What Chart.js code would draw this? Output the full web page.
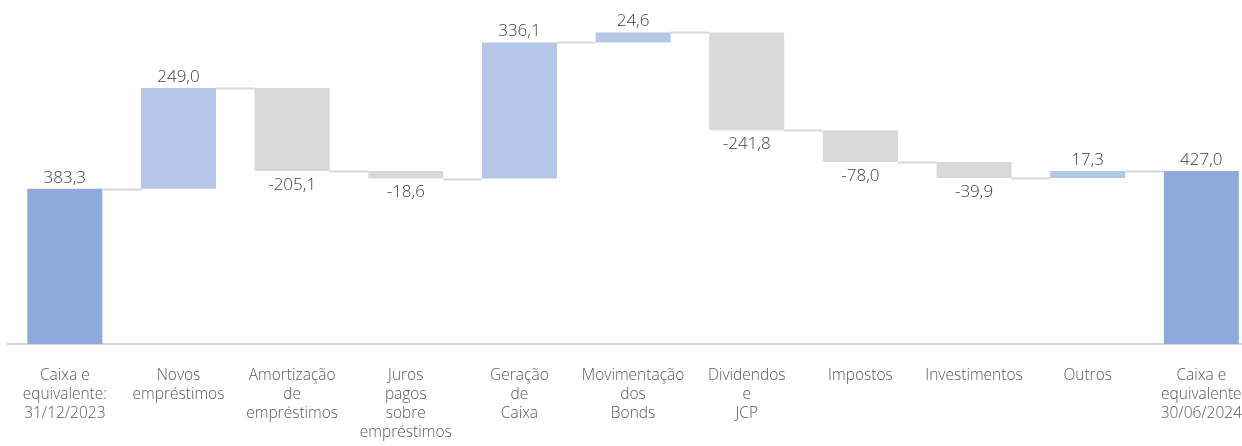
<!DOCTYPE html>
<html>
<head>
<meta charset="utf-8">
<script src="https://cdn.jsdelivr.net/npm/chart.js@4.4.1/dist/chart.umd.min.js"></script>
<style>
  html, body { margin: 0; padding: 0; background: #ffffff; overflow: hidden; }
  #wrap { position: relative; width: 1264px; height: 446px; }
</style>
</head>
<body>
<div id="wrap"><canvas id="c" width="1264" height="446"></canvas></div>
<script>
const categories = [
  ['Caixa e', 'equivalente:', '31/12/2023'],
  ['Novos', 'empréstimos'],
  ['Amortização', 'de', 'empréstimos'],
  ['Juros', 'pagos', 'sobre', 'empréstimos'],
  ['Geração', 'de', 'Caixa'],
  ['Movimentação', 'dos', 'Bonds'],
  ['Dividendos', 'e', 'JCP'],
  ['Impostos'],
  ['Investimentos'],
  ['Outros'],
  ['Caixa e', 'equivalente', '30/06/2024']
];
const values = [383.3, 249.0, -205.1, -18.6, 336.1, 24.6, -241.8, -78.0, -39.9, 17.3, 427.0];
const kinds = ['total', 'delta', 'delta', 'delta', 'delta', 'delta', 'delta', 'delta', 'delta', 'delta', 'total'];

const colorTotal = '#8eaadb';
const colorUp = '#b4c7e7';
const colorDown = '#d9d9d9';

// build floating bars from values
const floats = [];
const levels = [];
let running = 0;
values.forEach((v, i) => {
  if (kinds[i] === 'total') {
    floats.push([0, v]);
    running = v;
  } else {
    floats.push([running, running + v]);
    running = running + v;
  }
  levels.push(running);
});
const colors = values.map((v, i) => kinds[i] === 'total' ? colorTotal : (v >= 0 ? colorUp : colorDown));

const fmt = v => v.toFixed(1).replace('.', ',');

const waterfallPlugin = {
  id: 'waterfall',
  afterDatasetsDraw(chart) {
    const ctx = chart.ctx;
    const meta = chart.getDatasetMeta(0);
    const y = chart.scales.y;
    ctx.save();
    // connectors
    ctx.strokeStyle = '#d9d9d9';
    ctx.lineWidth = 2;
    for (let i = 0; i < meta.data.length - 1; i++) {
      const a = meta.data[i], b = meta.data[i + 1];
      const yy = Math.round(y.getPixelForValue(levels[i])) + 0.5;
      ctx.beginPath();
      ctx.moveTo(a.x + a.width / 2, yy);
      ctx.lineTo(b.x - b.width / 2, yy);
      ctx.stroke();
    }
    // labels
    ctx.fillStyle = '#404040';
    ctx.font = '300 17px "Open Sans", sans-serif';
    ctx.textAlign = 'center';
    ctx.textBaseline = 'middle';
    meta.data.forEach((bar, i) => {
      const v = values[i];
      const top = Math.min(bar.y, bar.base);
      const bottom = Math.max(bar.y, bar.base);
      if (v >= 0) {
        ctx.fillText(fmt(v), bar.x, top - 11);
      } else {
        ctx.fillText(fmt(v), bar.x, bottom + 14);
      }
    });
    ctx.restore();
  }
};

new Chart(document.getElementById('c'), {
  type: 'bar',
  data: {
    labels: categories,
    datasets: [{
      data: floats,
      backgroundColor: colors,
      borderWidth: 0,
      barPercentage: 0.66,
      categoryPercentage: 1.0
    }]
  },
  options: {
    responsive: false,
    animation: false,
    devicePixelRatio: 1,
    layout: { padding: { left: 8, right: 0, top: 20, bottom: 0 } },
    plugins: {
      legend: { display: false },
      tooltip: { enabled: false }
    },
    scales: {
      y: {
        display: false,
        min: 0,
        max: 800
      },
      x: {
        grid: { display: false, drawTicks: false },
        border: { display: true, color: '#d9d9d9', width: 2 },
        ticks: {
          color: '#595959',
          font: { family: '"Open Sans", sans-serif', size: 15.5, weight: '300', lineHeight: 1.23 },
          padding: 22,
          maxRotation: 0,
          autoSkip: false
        },
        afterFit(scale) { scale.height = 102; }
      }
    }
  },
  plugins: [waterfallPlugin]
});
</script>
</body>
</html>
